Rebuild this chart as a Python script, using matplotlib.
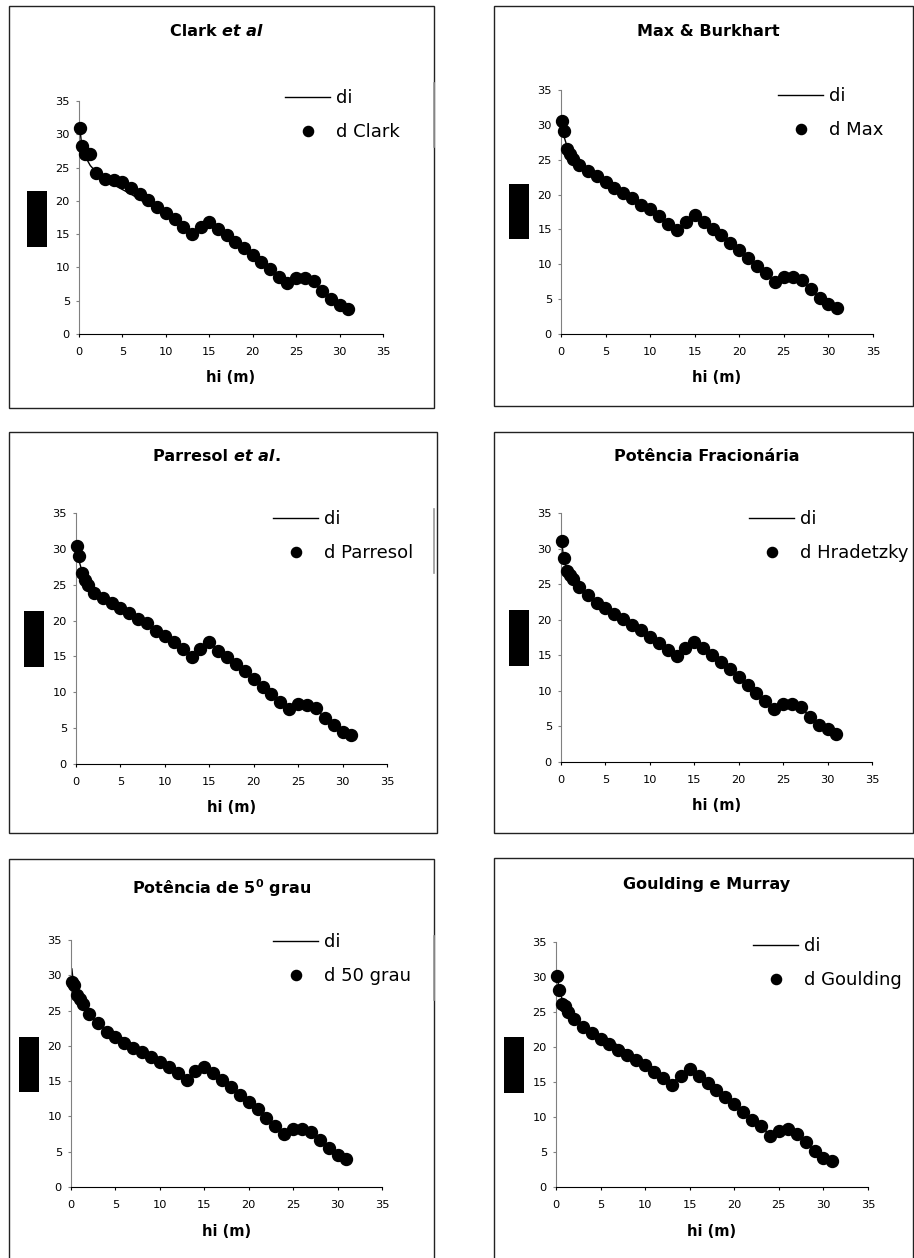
import numpy as np
import matplotlib.pyplot as plt
from matplotlib.patches import Rectangle
from matplotlib.lines import Line2D

plt.rcParams['font.family'] = ['DejaVu Sans']
plt.rcParams['mathtext.default'] = 'regular'

W, H = 914, 1258

# heights along the stem (m)
hi = [0.1, 0.3, 0.7, 1.0, 1.3] + list(range(2, 32))

# observed diameters
di = [30.9, 28.5, 26.8, 26.0, 25.3, 24.3, 23.2, 22.4, 21.7, 21.0, 20.2, 19.4,
      18.6, 17.9, 17.0, 15.9, 14.9, 16.0, 16.9, 16.0, 15.0, 14.0, 13.0, 12.0,
      10.9, 9.8, 8.6, 7.5, 8.2, 8.2, 7.7, 6.4, 5.2, 4.4, 3.9]

# estimated diameters per model
d_clark = [31.0, 28.3, 27.0, 27.0, 27.1, 24.2, 23.3, 23.1, 22.8, 22.0, 21.1, 20.1,
           19.1, 18.2, 17.2, 16.0, 15.0, 16.0, 16.8, 15.8, 14.8, 13.8, 12.9, 11.9,
           10.8, 9.8, 8.6, 7.6, 8.4, 8.4, 7.9, 6.4, 5.2, 4.3, 3.8]
d_max = [30.5, 29.1, 26.5, 25.8, 25.1, 24.2, 23.4, 22.7, 21.8, 21.0, 20.2, 19.5,
         18.5, 17.9, 16.9, 15.8, 14.9, 16.1, 17.0, 16.1, 15.1, 14.2, 13.0, 12.1,
         10.9, 9.8, 8.7, 7.5, 8.2, 8.2, 7.8, 6.4, 5.2, 4.3, 3.8]
d_parresol = [30.4, 29.0, 26.7, 25.7, 25.0, 23.8, 23.2, 22.4, 21.8, 21.1, 20.2, 19.6,
              18.6, 17.8, 17.0, 16.0, 14.9, 16.0, 17.0, 15.8, 14.9, 14.0, 12.9, 11.8,
              10.8, 9.8, 8.7, 7.6, 8.3, 8.2, 7.8, 6.4, 5.4, 4.5, 4.0]
d_hradetzky = [31.0, 28.7, 26.9, 26.3, 25.7, 24.6, 23.5, 22.4, 21.6, 20.8, 20.1, 19.2,
               18.5, 17.6, 16.7, 15.8, 14.9, 16.0, 16.9, 16.0, 15.1, 14.0, 13.1, 12.0,
               10.8, 9.7, 8.6, 7.5, 8.1, 8.1, 7.7, 6.3, 5.2, 4.6, 4.0]
d_50grau = [29.1, 28.6, 27.2, 26.6, 25.9, 24.5, 23.2, 22.0, 21.3, 20.4, 19.7, 19.1,
            18.4, 17.7, 17.0, 16.1, 15.2, 16.4, 17.0, 16.1, 15.2, 14.1, 13.1, 12.0,
            11.0, 9.8, 8.7, 7.5, 8.2, 8.2, 7.8, 6.6, 5.5, 4.6, 3.9]
d_goulding = [30.2, 28.2, 26.1, 25.8, 25.0, 24.0, 22.9, 22.0, 21.1, 20.4, 19.6, 18.8,
              18.1, 17.4, 16.5, 15.6, 14.6, 15.8, 16.8, 15.8, 14.9, 13.9, 12.8, 11.9,
              10.7, 9.6, 8.7, 7.3, 8.0, 8.3, 7.6, 6.4, 5.1, 4.1, 3.7]

titles = [["Clark ", "et al", ""], ["Max & Burkhart", "", ""],
          ["Parresol ", "et al", "."], ["Potência Fracionária", "", ""],
          ["Potência de 5$^{0}$ grau", "", ""], ["Goulding e Murray", "", ""]]
labels = ["d Clark", "d Max", "d Parresol", "d Hradetzky", "d 50 grau", "d Goulding"]
estimates = [d_clark, d_max, d_parresol, d_hradetzky, d_50grau, d_goulding]

# layout in pixels: box, axes (x0, x35, y0, y35), black box, title, legend
boxes = [(9, 6, 434, 408), (494, 6, 913, 406), (9, 432, 437, 833),
         (494, 432, 913, 833), (9, 859, 434, 1262), (494, 858, 913, 1262)]
axpos = [(79, 383, 334, 101), (561, 873, 334, 90), (76, 387, 764, 513),
         (561, 872, 762, 513), (71, 382, 1187, 940), (556, 868, 1187, 942)]
blacks = [(27, 191, 47, 247), (509, 184, 529, 239), (24, 611, 44, 667),
          (509, 610, 529, 666), (19, 1037, 39, 1092), (504, 1037, 524, 1093)]
title_xy = [(170, 32, 'left'), (708, 32, 'center'), (153, 457, 'left'),
            (707, 457, 'center'), (222, 888, 'center'), (707, 885, 'center')]
legend_xy = [(285, 99), (778, 97), (273, 520), (749, 520), (273, 943), (753, 947)]


def fx(x):
    return x / W


def fy(y):
    return 1 - y / H


fig = plt.figure(figsize=(W / 100, H / 100), dpi=100)

for k in range(6):
    bx0, by0, bx1, by1 = boxes[k]
    fig.patches.append(Rectangle((fx(bx0), fy(by1)), fx(bx1 - bx0), (by1 - by0) / H,
                                 transform=fig.transFigure, fill=False,
                                 edgecolor='#222222', lw=1.0))
    kx0, ky0, kx1, ky1 = blacks[k]
    fig.patches.append(Rectangle((fx(kx0), fy(ky1)), fx(kx1 - kx0), (ky1 - ky0) / H,
                                 transform=fig.transFigure, facecolor='black',
                                 edgecolor='none'))

    x0, x35, y0, y35 = axpos[k]
    ax = fig.add_axes([fx(x0), fy(y0), fx(x35 - x0), (y0 - y35) / H])
    ax.plot(hi, di, color='black', lw=1.0, label='di', zorder=2)
    ax.plot(hi, estimates[k], 'o', color='black', ms=8.6, ls='none',
            label=labels[k], zorder=3, clip_on=False)
    ax.set_xlim(0, 35)
    ax.set_ylim(0, 35)
    ax.set_xticks(range(0, 36, 5))
    ax.set_yticks(range(0, 36, 5))
    ax.spines['top'].set_visible(False)
    ax.spines['right'].set_visible(False)
    ax.spines['left'].set_color('#808080')
    ax.spines['bottom'].set_color('black')
    ax.tick_params(axis='both', labelsize=8.2, length=2.5, width=0.8, direction='out')
    ax.tick_params(axis='x', pad=7, colors='black')
    ax.tick_params(axis='y', pad=4, color='#808080', labelcolor='black')
    ax.set_xlabel('hi (m)', fontsize=10.5, fontweight='bold', va='center')
    ax.xaxis.set_label_coords(0.5, -44 / (y0 - y35))

    lx, ly = legend_xy[k]
    ax.legend(loc='upper left', bbox_to_anchor=(fx(lx), fy(ly - 10)),
              bbox_transform=fig.transFigure, frameon=False, fontsize=13,
              handlelength=2.5, handletextpad=0.3, labelspacing=0.9,
              borderpad=0, borderaxespad=0, markerscale=0.85)

    tx, ty, ha = title_xy[k]
    part1, part2, part3 = titles[k]
    t1 = fig.text(fx(tx), fy(ty), part1, fontsize=11.5, fontweight='bold',
                  ha=ha, va='center')
    if part2:
        t2 = ax.annotate(part2, xy=(1, 0), xycoords=t1, va='bottom', ha='left',
                         fontsize=11.5, fontweight='bold', style='italic',
                         annotation_clip=False)
        if part3:
            ax.annotate(part3, xy=(1, 0), xycoords=t2, va='bottom', ha='left',
                        fontsize=11.5, fontweight='bold', annotation_clip=False)

# gray segments on the right border of the left panels
for top in [6, 432, 859]:
    fig.lines.append(Line2D([fx(434), fx(434)], [fy(top + 77), fy(top + 141)],
                            transform=fig.transFigure, color='#999999', lw=1.2))

fig.savefig('out.png', dpi=100)
